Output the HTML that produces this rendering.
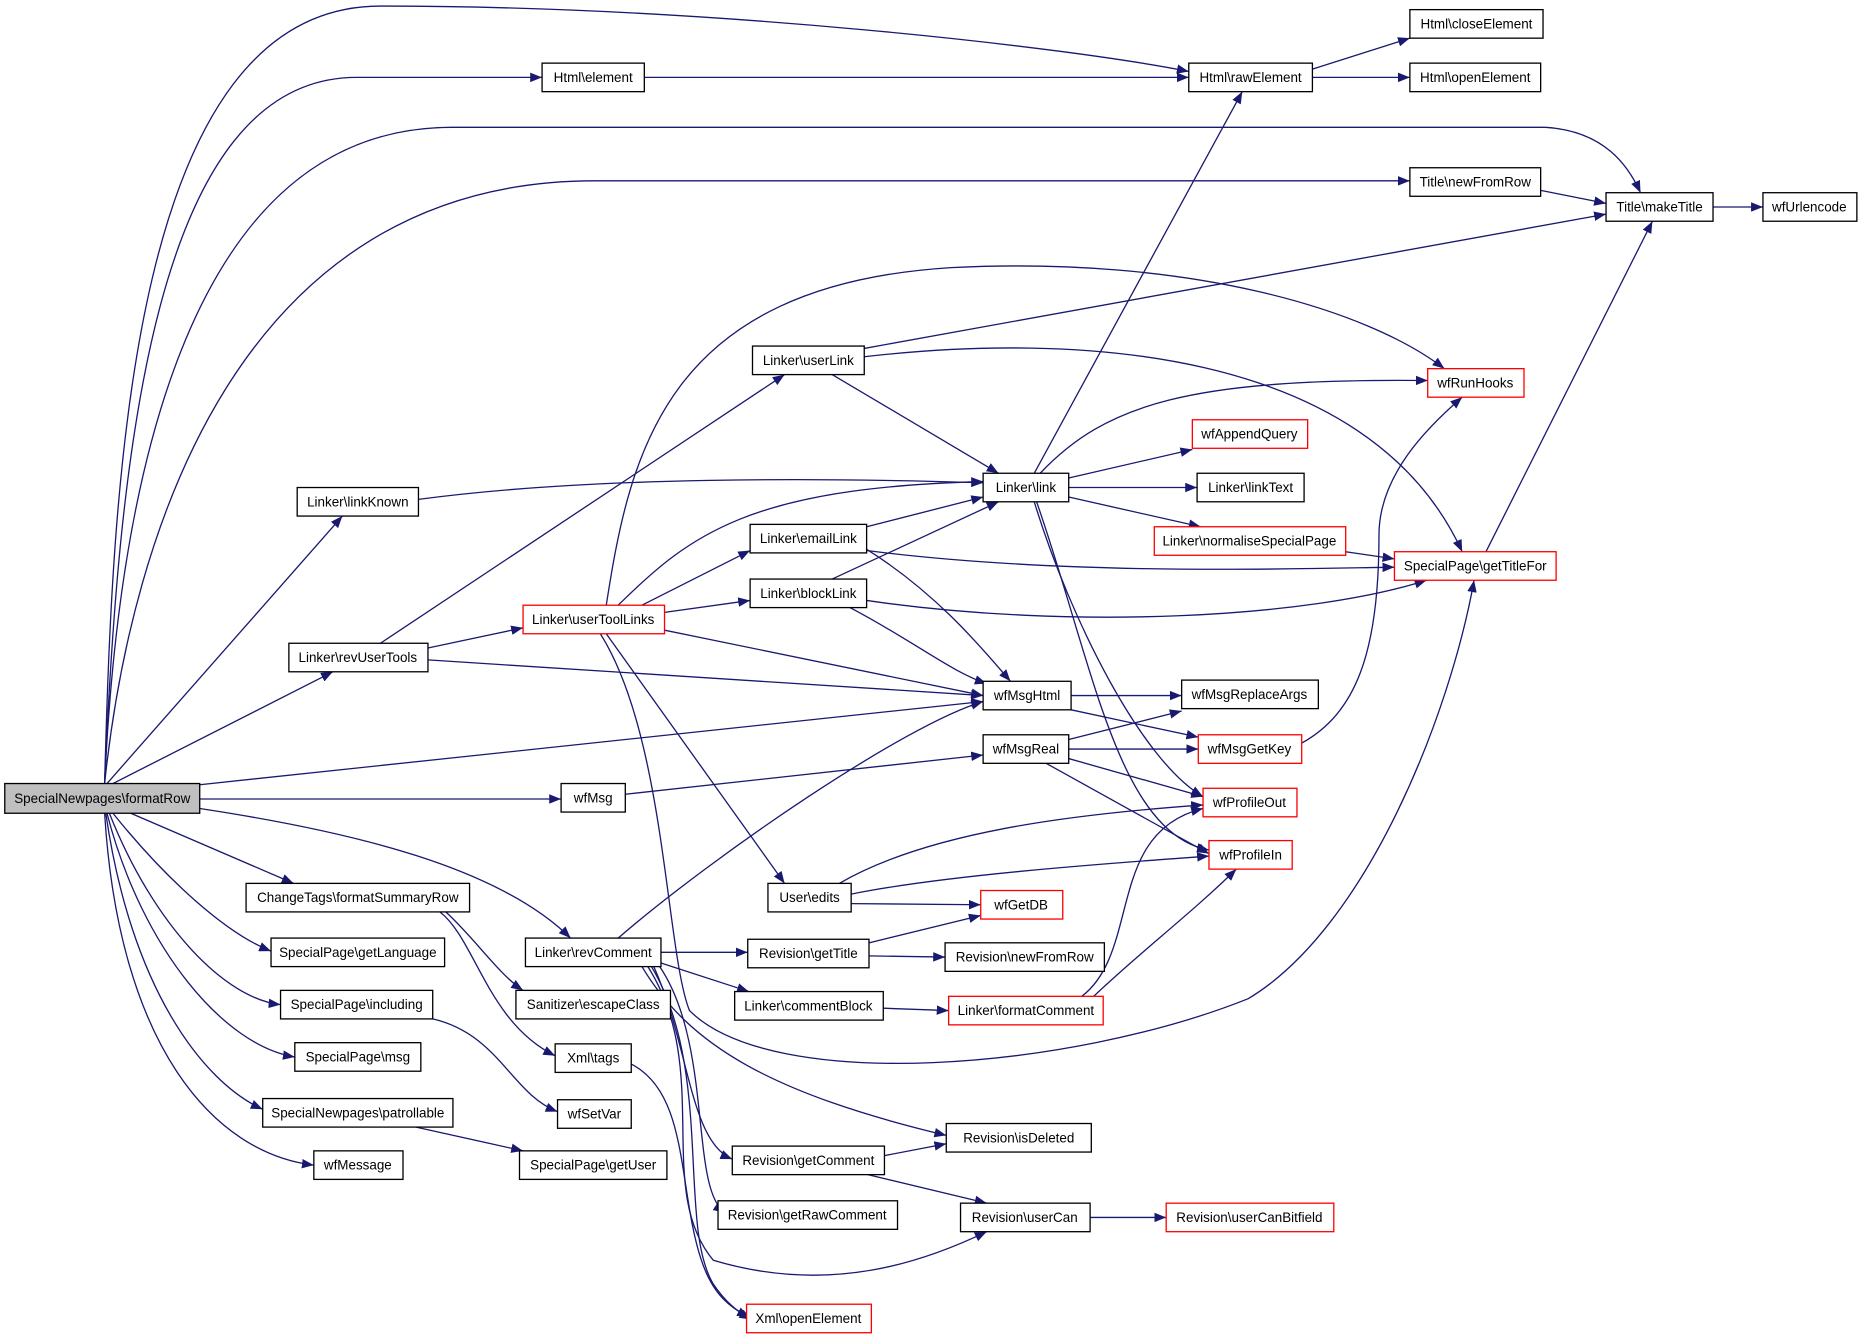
<!DOCTYPE html>
<html><head><meta charset="utf-8"><style>
html,body{margin:0;padding:0;background:#fff;}
svg{display:block;}
text{font-family:"Liberation Sans",sans-serif;font-size:11.3px;fill:#000;text-anchor:middle;dominant-baseline:central;}
.e{fill:none;stroke:#191970;stroke-width:1.1;marker-end:url(#a);}
.n{fill:#fff;stroke:#000;stroke-width:1.1;}
.r{fill:#fff;stroke:#f00;stroke-width:1.1;}
</style></head><body>
<svg width="1864" height="1340" viewBox="0 0 1568 1127" xmlns="http://www.w3.org/2000/svg">
<defs><marker id="a" viewBox="0 0 10 8" refX="10" refY="4" markerWidth="10" markerHeight="8" markerUnits="userSpaceOnUse" orient="auto"><path d="M0,0 L10,4 L0,8 z" fill="#191970"/></marker></defs>
<g>
<path class="e" d="M88,659 C95,400 110,5 320,5 C600,5 900,40 1000,60"/>
<path class="e" d="M88,659 C100,380 130,65 300,65 L456,65"/>
<path class="e" d="M88,659 C100,400 160,107 380,107 L1300,107 C1350,110 1370,140 1380,162"/>
<path class="e" d="M88,659 C110,450 200,152 500,152 L1186,152"/>
<path class="e" d="M90,659 L288,434"/>
<path class="e" d="M95,659 L280,565"/>
<path class="e" d="M168,660 L827,590"/>
<path class="e" d="M168,672 L472,672"/>
<path class="e" d="M168,680 C300,700 420,730 480,789"/>
<path class="e" d="M110,684 L247,743"/>
<path class="e" d="M95,684 C140,740 190,785 228,800"/>
<path class="e" d="M92,684 C130,780 190,840 236,845"/>
<path class="e" d="M90,684 C120,800 190,880 248,889"/>
<path class="e" d="M89,684 C110,830 170,910 221,933"/>
<path class="e" d="M88,684 C100,880 180,970 264,980"/>
<path class="e" d="M542,65 L1000,65"/>
<path class="e" d="M1104,58 L1186,32"/>
<path class="e" d="M1104,65 L1186,65"/>
<path class="e" d="M1296,160 L1351,171"/>
<path class="e" d="M1441,174 L1483,174"/>
<path class="e" d="M727,293 L1351,180"/>
<path class="e" d="M727,300 C900,280 1150,290 1230,464"/>
<path class="e" d="M700,315 L840,398"/>
<path class="e" d="M870,398 L1045,77"/>
<path class="e" d="M875,398 C930,340 1000,318 1201,320"/>
<path class="e" d="M899,402 L1003,378"/>
<path class="e" d="M899,410 L1007,410"/>
<path class="e" d="M899,418 L1010,443"/>
<path class="e" d="M870,422 C900,520 960,640 1012,670"/>
<path class="e" d="M872,422 C920,560 940,700 1017,715"/>
<path class="e" d="M352,420 C500,400 700,402 827,406"/>
<path class="e" d="M729,443 L827,418"/>
<path class="e" d="M729,463 C900,485 1100,478 1173,477"/>
<path class="e" d="M729,462 C790,500 830,550 850,573"/>
<path class="e" d="M1132,464 L1173,470"/>
<path class="e" d="M1250,464 L1390,186"/>
<path class="e" d="M700,487 L840,422"/>
<path class="e" d="M729,505 C900,530 1100,520 1200,488"/>
<path class="e" d="M715,511 C770,540 800,565 830,575"/>
<path class="e" d="M510,509 C530,380 560,240 800,225 C1000,215 1150,260 1215,310"/>
<path class="e" d="M520,509 C580,450 630,410 827,405"/>
<path class="e" d="M540,509 L631,463"/>
<path class="e" d="M559,515 L631,505"/>
<path class="e" d="M559,530 L827,585"/>
<path class="e" d="M510,533 L660,743"/>
<path class="e" d="M505,533 C560,620 560,800 580,850 C650,920 900,900 1050,840 C1150,780 1220,600 1240,488"/>
<path class="e" d="M320,541 L660,315"/>
<path class="e" d="M360,545 L440,528"/>
<path class="e" d="M360,555 L827,585"/>
<path class="e" d="M901,585 L994,585"/>
<path class="e" d="M901,597 L1008,620"/>
<path class="e" d="M899,622 L994,598"/>
<path class="e" d="M899,630 L1008,630"/>
<path class="e" d="M899,638 L1012,670"/>
<path class="e" d="M880,642 L1017,718"/>
<path class="e" d="M1095,625 C1140,600 1160,550 1160,450 C1160,400 1200,360 1230,334"/>
<path class="e" d="M526,668 L827,635"/>
<path class="e" d="M706,743 C780,700 900,685 1012,677"/>
<path class="e" d="M716,752 C800,735 950,725 1017,720"/>
<path class="e" d="M716,760 L825,761"/>
<path class="e" d="M520,789 C600,720 760,610 827,590"/>
<path class="e" d="M556,801 L629,801"/>
<path class="e" d="M556,810 L630,834"/>
<path class="e" d="M540,813 C580,880 650,920 796,955"/>
<path class="e" d="M550,813 C580,880 580,960 616,975"/>
<path class="e" d="M555,813 C600,880 580,1000 610,1020"/>
<path class="e" d="M545,813 C600,900 550,1000 600,1060 C700,1090 780,1060 830,1036"/>
<path class="e" d="M548,813 C600,900 570,1030 600,1080 C610,1095 620,1103 632,1110"/>
<path class="e" d="M731,793 L825,770"/>
<path class="e" d="M731,804 L795,805"/>
<path class="e" d="M743,848 L798,850"/>
<path class="e" d="M910,838 C960,800 930,700 1012,680"/>
<path class="e" d="M920,838 C960,800 1000,770 1040,731"/>
<path class="e" d="M744,972 L796,962"/>
<path class="e" d="M730,988 L830,1012"/>
<path class="e" d="M917,1024 L981,1024"/>
<path class="e" d="M375,767 C400,790 420,820 440,833"/>
<path class="e" d="M370,767 C400,790 410,860 467,888"/>
<path class="e" d="M531,895 C580,920 570,1000 590,1060 C600,1090 615,1100 630,1108"/>
<path class="e" d="M364,857 C420,870 430,920 469,935"/>
<path class="e" d="M350,948 L440,968"/>
</g>
<g>
<rect x="4" y="659" width="164" height="25" fill="#bfbfbf" stroke="#000" stroke-width="1.1"/><text x="86" y="671.5">SpecialNewpages\formatRow</text>
<rect class="n" x="456" y="53" width="86" height="24"/><text x="499" y="65">Html\element</text>
<rect class="n" x="1000" y="53" width="104" height="24"/><text x="1052" y="65">Html\rawElement</text>
<rect class="n" x="1186" y="8" width="112" height="24"/><text x="1242" y="20">Html\closeElement</text>
<rect class="n" x="1186" y="53" width="110" height="24"/><text x="1241" y="65">Html\openElement</text>
<rect class="n" x="1186" y="141" width="110" height="24"/><text x="1241" y="153">Title\newFromRow</text>
<rect class="n" x="1351" y="162" width="90" height="24"/><text x="1396" y="174">Title\makeTitle</text>
<rect class="n" x="1483" y="162" width="79" height="24"/><text x="1522" y="174">wfUrlencode</text>
<rect class="n" x="633" y="291" width="94" height="24"/><text x="680" y="303">Linker\userLink</text>
<rect class="r" x="1201" y="310" width="81" height="24"/><text x="1241" y="322">wfRunHooks</text>
<rect class="r" x="1003" y="353" width="97" height="24"/><text x="1051" y="365">wfAppendQuery</text>
<rect class="n" x="827" y="398" width="72" height="24"/><text x="863" y="410">Linker\link</text>
<rect class="n" x="1007" y="398" width="90" height="24"/><text x="1052" y="410">Linker\linkText</text>
<rect class="n" x="250" y="410" width="102" height="24"/><text x="301" y="422">Linker\linkKnown</text>
<rect class="n" x="631" y="441" width="98" height="24"/><text x="680" y="453">Linker\emailLink</text>
<rect class="r" x="971" y="443" width="161" height="24"/><text x="1051" y="455">Linker\normaliseSpecialPage</text>
<rect class="r" x="1173" y="464" width="136" height="24"/><text x="1241" y="476">SpecialPage\getTitleFor</text>
<rect class="n" x="631" y="487" width="98" height="24"/><text x="680" y="499">Linker\blockLink</text>
<rect class="r" x="440" y="509" width="119" height="24"/><text x="499" y="521">Linker\userToolLinks</text>
<rect class="n" x="243" y="541" width="117" height="24"/><text x="301" y="553">Linker\revUserTools</text>
<rect class="n" x="827" y="573" width="74" height="24"/><text x="864" y="585">wfMsgHtml</text>
<rect class="n" x="994" y="572" width="115" height="24"/><text x="1051" y="584">wfMsgReplaceArgs</text>
<rect class="n" x="827" y="618" width="72" height="24"/><text x="863" y="630">wfMsgReal</text>
<rect class="r" x="1008" y="618" width="87" height="24"/><text x="1051" y="630">wfMsgGetKey</text>
<rect class="n" x="472" y="659" width="54" height="24"/><text x="499" y="671">wfMsg</text>
<rect class="r" x="1012" y="663" width="79" height="24"/><text x="1051" y="675">wfProfileOut</text>
<rect class="r" x="1017" y="707" width="70" height="24"/><text x="1052" y="719">wfProfileIn</text>
<rect class="n" x="646" y="743" width="70" height="24"/><text x="681" y="755">User\edits</text>
<rect class="r" x="825" y="749" width="69" height="24"/><text x="859" y="761">wfGetDB</text>
<rect class="n" x="207" y="743" width="188" height="24"/><text x="301" y="755">ChangeTags\formatSummaryRow</text>
<rect class="n" x="228" y="789" width="146" height="24"/><text x="301" y="801">SpecialPage\getLanguage</text>
<rect class="n" x="442" y="789" width="114" height="24"/><text x="499" y="801">Linker\revComment</text>
<rect class="n" x="629" y="790" width="102" height="24"/><text x="680" y="802">Revision\getTitle</text>
<rect class="n" x="795" y="793" width="134" height="24"/><text x="862" y="805">Revision\newFromRow</text>
<rect class="n" x="434" y="833" width="130" height="24"/><text x="499" y="845">Sanitizer\escapeClass</text>
<rect class="n" x="618" y="834" width="125" height="24"/><text x="680" y="846">Linker\commentBlock</text>
<rect class="r" x="798" y="838" width="130" height="24"/><text x="863" y="850">Linker\formatComment</text>
<rect class="n" x="236" y="833" width="128" height="24"/><text x="300" y="845">SpecialPage\including</text>
<rect class="n" x="467" y="878" width="64" height="24"/><text x="499" y="890">Xml\tags</text>
<rect class="n" x="248" y="877" width="106" height="24"/><text x="301" y="889">SpecialPage\msg</text>
<rect class="n" x="221" y="924" width="160" height="24"/><text x="301" y="936">SpecialNewpages\patrollable</text>
<rect class="n" x="469" y="925" width="62" height="24"/><text x="500" y="937">wfSetVar</text>
<rect class="n" x="796" y="945" width="122" height="24"/><text x="857" y="957">Revision\isDeleted</text>
<rect class="n" x="616" y="964" width="128" height="24"/><text x="680" y="976">Revision\getComment</text>
<rect class="n" x="264" y="968" width="75" height="24"/><text x="301" y="980">wfMessage</text>
<rect class="n" x="437" y="968" width="124" height="24"/><text x="499" y="980">SpecialPage\getUser</text>
<rect class="n" x="604" y="1010" width="151" height="24"/><text x="679" y="1022">Revision\getRawComment</text>
<rect class="n" x="808" y="1012" width="109" height="24"/><text x="862" y="1024">Revision\userCan</text>
<rect class="r" x="981" y="1012" width="141" height="24"/><text x="1051" y="1024">Revision\userCanBitfield</text>
<rect class="r" x="628" y="1097" width="105" height="24"/><text x="680" y="1109">Xml\openElement</text>
</g>
</svg>
</body></html>
